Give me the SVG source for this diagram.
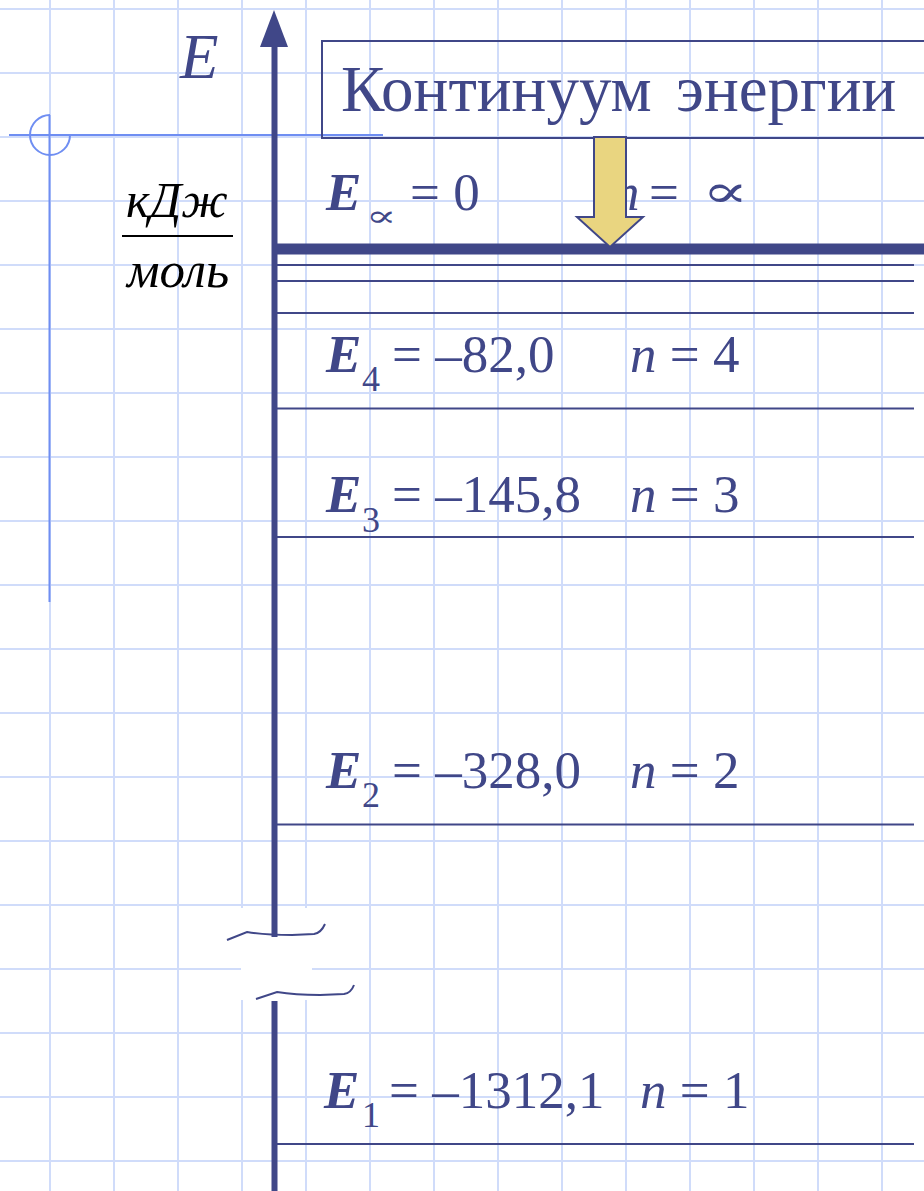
<svg xmlns="http://www.w3.org/2000/svg" width="924" height="1191" viewBox="0 0 924 1191">
<style>
.grid line{stroke:#d0dcfa;stroke-width:2}
.margin{stroke:#6f8ef2;stroke-width:2;fill:none}
.dk{stroke:#404788;fill:none}
.lvl{stroke:#404788;stroke-width:2}
.t{font-family:"Liberation Serif","Times New Roman","DejaVu Serif",serif;fill:#404788}
.sym{font-family:"DejaVu Sans","DejaVu Serif",sans-serif;font-weight:200;fill:#404788}
.bi{font-weight:bold;font-style:italic}
.it{font-style:italic}
</style>
<rect width="924" height="1191" fill="#ffffff"/>
<g class="grid" id="grid">
<line x1="50" y1="0" x2="50" y2="1191"/><line x1="114" y1="0" x2="114" y2="1191"/><line x1="178" y1="0" x2="178" y2="1191"/><line x1="242" y1="0" x2="242" y2="1191"/><line x1="306" y1="0" x2="306" y2="1191"/><line x1="370" y1="0" x2="370" y2="1191"/><line x1="434" y1="0" x2="434" y2="1191"/><line x1="498" y1="0" x2="498" y2="1191"/><line x1="562" y1="0" x2="562" y2="1191"/><line x1="626" y1="0" x2="626" y2="1191"/><line x1="690" y1="0" x2="690" y2="1191"/><line x1="754" y1="0" x2="754" y2="1191"/><line x1="818" y1="0" x2="818" y2="1191"/><line x1="882" y1="0" x2="882" y2="1191"/>
<line x1="0" y1="9" x2="924" y2="9"/><line x1="0" y1="73" x2="924" y2="73"/><line x1="0" y1="137" x2="924" y2="137"/><line x1="0" y1="201" x2="924" y2="201"/><line x1="0" y1="265" x2="924" y2="265"/><line x1="0" y1="329" x2="924" y2="329"/><line x1="0" y1="393" x2="924" y2="393"/><line x1="0" y1="457" x2="924" y2="457"/><line x1="0" y1="521" x2="924" y2="521"/><line x1="0" y1="585" x2="924" y2="585"/><line x1="0" y1="649" x2="924" y2="649"/><line x1="0" y1="713" x2="924" y2="713"/><line x1="0" y1="777" x2="924" y2="777"/><line x1="0" y1="841" x2="924" y2="841"/><line x1="0" y1="905" x2="924" y2="905"/><line x1="0" y1="969" x2="924" y2="969"/><line x1="0" y1="1033" x2="924" y2="1033"/><line x1="0" y1="1097" x2="924" y2="1097"/><line x1="0" y1="1161" x2="924" y2="1161"/>
</g>
<rect x="241" y="908" width="71" height="92" fill="#ffffff"/>
<g id="margin">
<line class="margin" x1="9" y1="135" x2="383" y2="135"/>
<line class="margin" x1="49.5" y1="115" x2="49.5" y2="602"/>
<path class="margin" d="M50,115 A20,20 0 1 0 70,135"/>
</g>
<g id="axis">
<line class="dk" x1="274.5" y1="40" x2="274.5" y2="937" stroke-width="6"/>
<line class="dk" x1="274.5" y1="1001" x2="274.5" y2="1191" stroke-width="6"/>
<polygon points="274,10 260,47 288,47" fill="#404788"/>
<path class="dk" stroke-width="2" d="M227,940 L247,932 Q265,935 292,935 L314,934 Q321,933 325,924"/>
<path class="dk" stroke-width="2" d="M256,999 L277,992 Q295,995 320,995 L344,994 Q351,993 354,985"/>
<text class="t it" x="180" y="78" font-size="63">E</text>
</g>
<g id="units">
<text x="126" y="217" font-family="Liberation Serif,serif" font-style="italic" font-size="50" fill="#000">кДж</text>
<line x1="122" y1="236" x2="233" y2="236" stroke="#000" stroke-width="2"/>
<text x="127" y="287" font-family="Liberation Serif,serif" font-style="italic" font-size="51" fill="#000">моль</text>
</g>
<g id="continuum">
<rect class="dk" x="322" y="41" width="620" height="97" stroke-width="2"/>
<text class="t" y="111" font-size="65"><tspan x="341">Континуум</tspan><tspan x="676">энергии</tspan></text>
</g>
<g id="levels">
<line class="dk" x1="274" y1="249" x2="924" y2="249" stroke-width="11"/>
<line class="lvl" x1="277" y1="265" x2="914" y2="265"/>
<line class="lvl" x1="277" y1="281" x2="914" y2="281"/>
<line class="lvl" x1="277" y1="313" x2="914" y2="313"/>
<line class="lvl" x1="277" y1="408.5" x2="914" y2="408.5"/>
<line class="lvl" x1="277" y1="537" x2="914" y2="537"/>
<line class="lvl" x1="277" y1="824.5" x2="914" y2="824.5"/>
<line class="lvl" x1="277" y1="1144" x2="914" y2="1144"/>
</g>
<g id="label-inf">
<text class="t bi" x="326" y="210" font-size="53">E</text>
<text class="sym" transform="translate(366,226) scale(1.5,1)" x="0" y="0" font-size="30">∝</text>
<text class="t" x="410" y="210" font-size="53">= 0</text>
<text class="t it" x="613" y="210" font-size="53">n</text>
<text class="t" x="649" y="210" font-size="53">=</text>
<text class="sym" transform="translate(702,207) scale(1.5,1)" x="0" y="0" font-size="46">∝</text>
</g>
<g id="label-4" class="t">
<text x="326" y="372" font-size="53" class="bi">E</text>
<text x="362" y="391" font-size="36">4</text>
<text x="392" y="372" font-size="53">= –82,0</text>
<text x="630" y="372" font-size="53"><tspan class="it">n</tspan> = 4</text>
</g>
<g id="label-3" class="t">
<text x="326" y="512" font-size="53" class="bi">E</text>
<text x="362" y="532" font-size="36">3</text>
<text x="392" y="512" font-size="53">= –145,8</text>
<text x="630" y="512" font-size="53"><tspan class="it">n</tspan> = 3</text>
</g>
<g id="label-2" class="t">
<text x="326" y="788" font-size="53" class="bi">E</text>
<text x="362" y="807" font-size="36">2</text>
<text x="392" y="788" font-size="53">= –328,0</text>
<text x="630" y="788" font-size="53"><tspan class="it">n</tspan> = 2</text>
</g>
<g id="label-1" class="t">
<text x="324" y="1108" font-size="53" class="bi">E</text>
<text x="362" y="1127" font-size="36">1</text>
<text x="389" y="1108" font-size="53">= –1312,1</text>
<text x="640" y="1108" font-size="53"><tspan class="it">n</tspan> = 1</text>
</g>
<g id="arrow">
<polygon points="594,137 626,137 626,217 643,217 610,247 577,217 594,217" fill="#e9d580" stroke="#404788" stroke-width="2"/>
</g>
</svg>
